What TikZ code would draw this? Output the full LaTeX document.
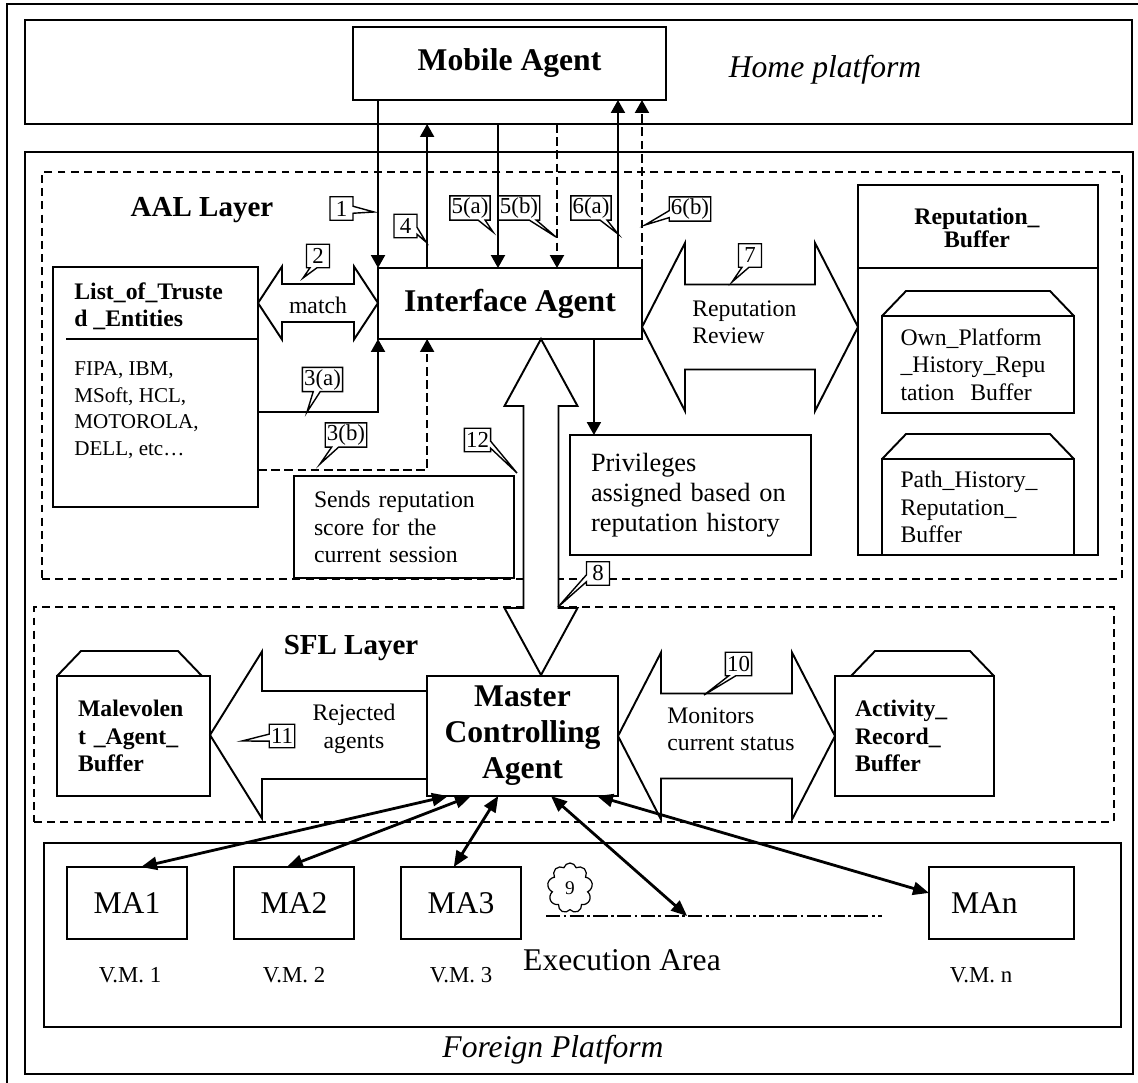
\documentclass[tikz,border=0pt]{standalone}
\usepackage{fontspec}
\setmainfont{Liberation Serif}
\usetikzlibrary{arrows.meta,calc,shapes.callouts,shapes.symbols}
% roof of a buffer box: node, left inset, right inset
\newcommand{\roof}[3]{\draw[box] ($(#1.north west)+(#2,0)$) -- ++(24,-25) -- ($(#1.north east)+({-24-#3},-25)$) -- ++(24,25);}
% block arrows: from, to, middle, head length, half shaft, half head
\newcommand{\hdbl}[6]{\draw[blk] (#1,#3) -- ({#1+#4},{#3-#6}) -- ({#1+#4},{#3-#5}) -- ({#2-#4},{#3-#5}) -- ({#2-#4},{#3-#6}) -- (#2,#3) -- ({#2-#4},{#3+#6}) -- ({#2-#4},{#3+#5}) -- ({#1+#4},{#3+#5}) -- ({#1+#4},{#3+#6}) -- cycle;}
\newcommand{\vdbl}[6]{\draw[blk] (#3,#1) -- ({#3+#6},{#1+#4}) -- ({#3+#5},{#1+#4}) -- ({#3+#5},{#2-#4}) -- ({#3+#6},{#2-#4}) -- (#3,#2) -- ({#3-#6},{#2-#4}) -- ({#3-#5},{#2-#4}) -- ({#3-#5},{#1+#4}) -- ({#3-#6},{#1+#4}) -- cycle;}
\tikzset{
  box/.style={draw, line width=1.1pt, inner sep=0pt, outer sep=0pt},
  layer/.style={draw, line width=1.1pt, dash pattern=on 4.5pt off 3pt, inner sep=0pt, outer sep=0pt},
  blk/.style={draw, line width=1.1pt, fill=white, line join=miter},
  conn/.style={line width=1.2pt, -{Triangle[length=0.26cm,width=0.28cm]}},
  dconn/.style={conn, dash pattern=on 5pt off 2.5pt},
  link/.style={line width=1.6pt, {Triangle[length=0.32cm,width=0.26cm]}-{Triangle[length=0.32cm,width=0.26cm]}},
  tag/.style={rectangle callout, draw, fill=white, line width=0.8pt, inner sep=1pt, minimum width=0.46cm, minimum height=0.47cm, callout pointer width=0.14cm, font=\fontsize{13}{15}\selectfont},
  big/.style={font=\fontsize{18}{20.5}\selectfont\bfseries},
  layername/.style={inner sep=0pt, font=\fontsize{16.5}{19}\selectfont\bfseries},
  bufname/.style={font=\fontsize{13.5}{15.5}\selectfont\bfseries},
  txt/.style={inner sep=0pt, font=\fontsize{13.5}{15.6}\selectfont},
  plat/.style={inner sep=0pt, font=\fontsize{18}{21}\selectfont\itshape},
}
\begin{document}
\begin{tikzpicture}[x=0.02cm, y=-0.02cm]
\useasboundingbox (0,0) rectangle (1138,1082);
% platforms and layers
\draw[line width=1.3pt] (7,1090) -- (7,4) -- (1145,4);
\node[box, minimum width=22.14cm, minimum height=2.08cm] (hp) at (578.5,72) {};
\node[plat] (hptext) at (825,70) {Home platform};
\node[box, minimum width=22.16cm, minimum height=18.44cm] (fp) at (579,613) {};
\node[layer, minimum width=21.6cm, minimum height=8.14cm] (aal) at (582,375.5) {};
\node[layer, minimum width=21.6cm, minimum height=4.3cm] (sfl) at (574,714.5) {};
\node[box, minimum width=21.54cm, minimum height=3.68cm] (exec) at (582.5,935) {};
\node[plat] (fptext) at (553,1050) {Foreign Platform};
\node[layername] (aaltext) at (202,210) {AAL Layer};
\node[layername] (sfltext) at (351,648) {SFL Layer};

% block arrows
\hdbl{258}{378}{303}{24}{19}{36.5}
\hdbl{642}{858}{327}{43}{42.5}{84}
\hdbl{618}{835}{736}{43}{42.5}{83.5}
\vdbl{339}{675}{541}{67}{17.5}{36.5}
\draw[blk] (210,735) -- (262,651.5) -- (262,691) -- (427,691) -- (427,779) -- (262,779) -- (262,818.5) -- cycle;
\node[txt] (matchtext) at (318,305) {match};
\node[txt, anchor=west, align=left] (revtext) at (692,322) {Reputation\\Review};
\node[txt, align=center] (rejtext) at (354,729) {Rejected\\agents};
\node[txt, anchor=west, align=left] (montext) at (667,729) {Monitors\\current status};

% AAL layer
\node[box, big, minimum width=6.26cm, minimum height=1.46cm] (ma) at (509.5,63.5) {Mobile Agent};
\node[box, big, minimum width=5.28cm, minimum height=1.42cm] (ia) at (510,303.5) {Interface Agent};
\node[box, minimum width=4.1cm, minimum height=4.8cm] (list) at (155.5,387) {};
\draw[box] ($(list.north east)+(0,72)$) -- ++(-192,0);
\node[bufname, inner sep=0pt, anchor=west, align=left] (listtitle) at (74,306) {List\_of\_Truste\\d \_Entities};
\node[inner sep=0pt, anchor=west, align=left, font=\fontsize{12}{15.1}\selectfont] (listbody) at (74,410) {FIPA, IBM,\\MSoft, HCL,\\MOTOROLA,\\DELL, etc…};
\node[box, txt, minimum width=4.4cm, minimum height=2.04cm, inner xsep=0.4cm, text width=3.6cm, align=left] (sends) at (404,527) {Sends reputation\\score for the\\current session};
\node[box, minimum width=4.82cm, minimum height=2.4cm, inner xsep=0.42cm, text width=3.98cm, align=left, font=\fontsize{15}{17}\selectfont] (priv) at (690.5,495) {Privileges\\assigned based on\\reputation history};
\node[box, minimum width=4.8cm, minimum height=7.4cm] (repbuf) at (978,370) {};
\draw[box] ($(repbuf.north west)+(0,83)$) -- ($(repbuf.north east)+(0,83)$);
\node[bufname, inner sep=0pt, align=center, font=\fontsize{13.5}{13.5}\selectfont\bfseries] (reptitle) at (977,228) {Reputation\_\\Buffer};
\node[box, txt, minimum width=3.84cm, minimum height=1.94cm, inner xsep=0.37cm, text width=3.1cm, align=left] (own) at (978,364.5) {Own\_Platform\\\_History\_Repu\\tation\ \ Buffer};
\node[box, txt, minimum width=3.84cm, minimum height=1.92cm, inner xsep=0.37cm, text width=3.1cm, align=left] (path) at (978,507) {Path\_History\_\\Reputation\_\\Buffer};
\roof{own}{0}{0}
\roof{path}{0}{0}

% SFL layer
\node[box, big, minimum width=3.82cm, minimum height=2.4cm, align=center] (mca) at (522.5,736) {Master\\Controlling\\Agent};
\node[box, bufname, minimum width=3.06cm, minimum height=2.4cm, inner xsep=0.42cm, text width=2.22cm, align=left] (mal) at (133.5,736) {Malevolen\\t \_Agent\_\\Buffer};
\node[box, bufname, minimum width=3.18cm, minimum height=2.4cm, inner xsep=0.4cm, text width=2.38cm, align=left] (act) at (914.5,736) {Activity\_\\Record\_\\Buffer};
\roof{mal}{0}{8}
\roof{act}{16}{0}

% execution area
\node[txt, font=\fontsize{18}{21}\selectfont] (exectext) at (622,960) {Execution Area};
\node[box, minimum width=2.4cm, minimum height=1.44cm, font=\fontsize{18}{21}\selectfont] (ma1) at (127,903) {MA1};
\node[box, minimum width=2.4cm, minimum height=1.44cm, font=\fontsize{18}{21}\selectfont] (ma2) at (294,903) {MA2};
\node[box, minimum width=2.4cm, minimum height=1.44cm, font=\fontsize{18}{21}\selectfont] (ma3) at (461,903) {MA3};
\node[box, minimum width=2.9cm, minimum height=1.44cm, inner xsep=0.44cm, text width=2.02cm, align=left, font=\fontsize{18}{21}\selectfont] (man) at (1001.5,903) {MAn};
\node[txt, font=\fontsize{13}{15}\selectfont] (vm1) at (130,975) {V.M. 1};
\node[txt, font=\fontsize{13}{15}\selectfont] (vm2) at (294,975) {V.M. 2};
\node[txt, font=\fontsize{13}{15}\selectfont] (vm3) at (461,975) {V.M. 3};
\node[txt, font=\fontsize{13}{15}\selectfont] (vmn) at (981,975) {V.M. n};
\coordinate (dd1) at (546,916);
\coordinate (dd2) at (882,916);
\draw[line width=1pt, dash pattern=on 8pt off 2pt on 1.5pt off 2pt] (dd1) -- (dd2);
\node[cloud, draw, line width=0.7pt, cloud puffs=9, aspect=0.9, inner sep=0pt, minimum width=0.9cm, minimum height=1cm, font=\fontsize{11}{13}\selectfont] (c9) at (570,888) {9};

% connectors
\coordinate (ia4) at ($(ia.north west)!0.186!(ia.north east)$);
\coordinate (ia5a) at ($(ia.north west)!0.4545!(ia.north east)$);
\coordinate (ia5b) at ($(ia.north west)!0.678!(ia.north east)$);
\coordinate (ia6a) at ($(ia.north west)!0.909!(ia.north east)$);
\coordinate (iap) at ($(ia.south west)!0.818!(ia.south east)$);
\coordinate (l3a) at ($(list.north east)!0.604!(list.south east)$);
\coordinate (l3b) at ($(list.north east)!0.846!(list.south east)$);
\draw[conn] (ma.south -| ia.north west) -- (ia.north west);
\draw[conn] (ia4) -- (hp.south -| ia4);
\draw[conn] (hp.south -| ia5a) -- (ia5a);
\draw[dconn] (hp.south -| ia5b) -- (ia5b);
\draw[conn] (ia6a) -- (ma.south -| ia6a);
\draw[dconn] (ia.north east) -- (ma.south -| ia.north east);
\draw[conn] (l3a) -| (ia.south west);
\draw[dconn] (l3b) -| (ia.south -| ia4);
\draw[conn] (iap) -- (priv.north -| iap);
\draw[link] ($(mca.south west)!0.11!(mca.south east)$) -- ($(ma1.north west)!0.617!(ma1.north east)$);
\draw[link] ($(mca.south west)!0.23!(mca.south east)$) -- ($(ma2.north west)!0.44!(ma2.north east)$);
\draw[link] ($(mca.south west)!0.373!(mca.south east)$) -- ($(ma3.north west)!0.44!(ma3.north east)$);
\draw[link] ($(mca.south west)!0.649!(mca.south east)$) -- ($(dd1)!0.42!(dd2)$);
\draw[link] ($(mca.south west)!0.89!(mca.south east)$) -- ($(man.north west)!0.36!(man.south west)$);

% numbered tags
\node[tag, callout absolute pointer={(374,212)}] (t1) at (341.5,208.5) {1};
\node[tag, callout absolute pointer={(426,242)}] (t4) at (405.5,226) {4};
\node[tag, callout absolute pointer={(493,232)}] (t5a) at (470,208) {5(a)};
\node[tag, callout absolute pointer={(556,237)}] (t5b) at (519,208) {5(b)};
\node[tag, callout absolute pointer={(618,234)}] (t6a) at (591,208) {6(a)};
\node[tag, callout absolute pointer={(645,225)}] (t6b) at (690,209) {6(b)};
\node[tag, callout absolute pointer={(303,278)}] (t2) at (318,256) {2};
\node[tag, callout absolute pointer={(732,282)}] (t7) at (750,255.5) {7};
\node[tag, callout absolute pointer={(307,412)}] (t3a) at (322.5,379.5) {3(a)};
\node[tag, callout absolute pointer={(320,464)}] (t3b) at (346,435) {3(b)};
\node[tag, callout absolute pointer={(517,473)}] (t12) at (477.5,440) {12};
\node[tag, callout absolute pointer={(558,607)}] (t8) at (598,573.5) {8};
\node[tag, callout absolute pointer={(704,695)}] (t10) at (738.5,664) {10};
\node[tag, callout absolute pointer={(242,741)}] (t11) at (282,736) {11};
\end{tikzpicture}
\end{document}
